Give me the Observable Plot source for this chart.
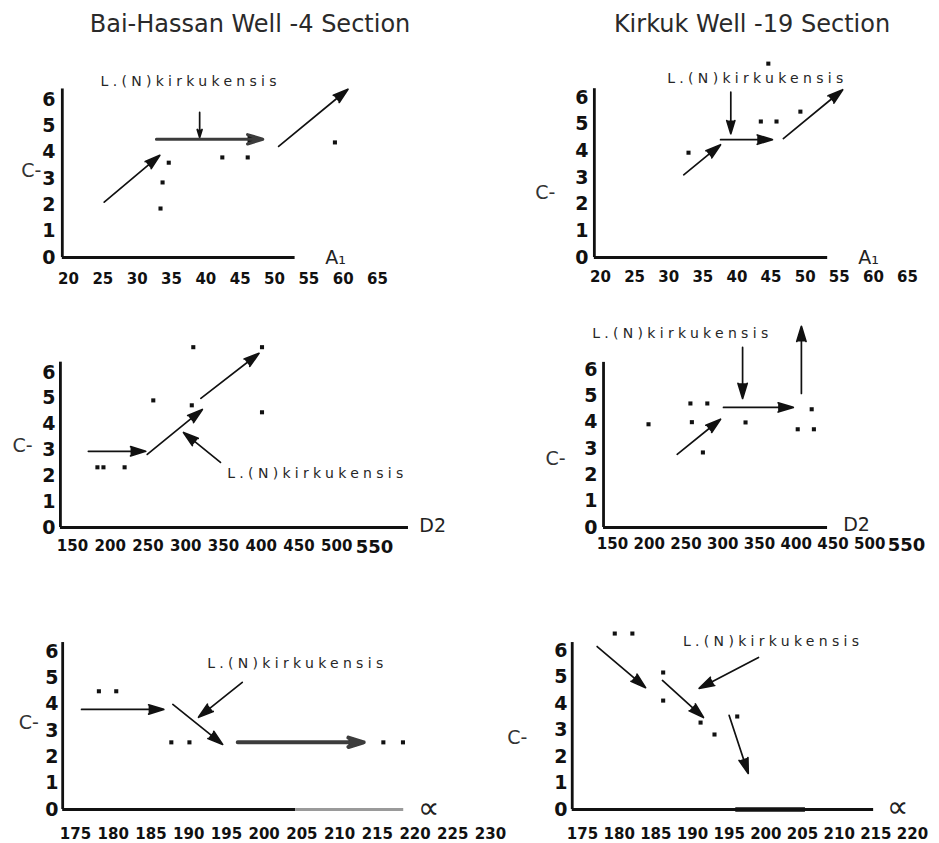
<!DOCTYPE html>
<html><head><meta charset="utf-8">
<script src="https://cdn.jsdelivr.net/npm/d3@7"></script>
<script src="https://cdn.jsdelivr.net/npm/@observablehq/plot@0.6"></script>
<style>
body{margin:0;background:#fff;}
#root{position:relative;width:939px;height:843px;overflow:hidden;font-family:"DejaVu Sans",sans-serif;background:#fff;}
.cell{position:absolute;}
.title{position:absolute;font-size:24px;line-height:24px;color:#2a2a2a;white-space:nowrap;transform:translateX(-50%);top:12px;}
svg{overflow:visible;}
.big550 g[aria-label="x-axis tick label"] text:last-child{font-size:18px;}
</style></head>
<body><div id="root"></div>
<script>
// ---------- shared labels / ticks ----------
const titles = ["Bai-Hassan Well -4 Section", "Kirkuk Well -19 Section"];
const noteText = "L.(N)kirkukensis";
const yTitle = "C-";
const xTitles = ["A\u2081", "D2", "\u221D"];
const yTicks = [0, 1, 2, 3, 4, 5, 6];
const xTicksA1 = [20, 25, 30, 35, 40, 45, 50, 55, 60, 65];
const xTicksD2 = [150, 200, 250, 300, 350, 400, 450, 500, 550];
const xTicksAlphaBH = [175, 180, 185, 190, 195, 200, 205, 210, 215, 220, 225, 230];
const xTicksAlphaK = [175, 180, 185, 190, 195, 200, 205, 210, 215, 220];

// ---------- Bai-Hassan, A1 ----------
const bhA1Dots = [[34.6,3.6],[33.7,2.85],[33.4,1.86],[42.4,3.8],[46.1,3.8],[58.8,4.37]];
const bhA1Arrows = [[25.2,2.1,33.3,3.88],[50.6,4.22,60.7,6.39],[39.1,5.51,39.1,4.56]];
const bhA1BoldArrows = [[32.8,4.49,48.3,4.49]];
const bhA1Note = [37.8,6.68];
const bhA1Axis = [19.1,6.4,53];
const bhA1Titles = [[14.6,3.27],[58.9,0]];

// ---------- Kirkuk, A1 ----------
const kA1Dots = [[32.9,3.93],[43.5,5.1],[45.8,5.1],[49.3,5.47],[44.6,7.27]];
const kA1Arrows = [[32.2,3.1,37.6,4.23],[37.6,4.42,45.2,4.42],[46.8,4.46,55.5,6.29],[39.1,6.2,39.1,4.64]];
const kA1Note = [43,6.71];
const kA1Axis = [19.1,6.33,53.3];
const kA1Titles = [[11.9,2.44],[59.3,0]];

// ---------- Bai-Hassan, D2 ----------
const bhD2Dots = [[183,2.33],[191,2.33],[219,2.33],[257,4.92],[310,6.98],[308,4.73],[401,6.98],[401,4.46]];
const bhD2Arrows = [[171,2.95,247,2.95],[249,2.83,322,4.57],[320,5.0,397,6.74],[346,2.52,297,3.68]];
const bhD2Note = [355,2.09];
const bhD2Axis = [134,6.4,595];
const bhD2Titles = [[83.8,3.17],[627,0.08]];

// ---------- Kirkuk, D2 ----------
const kD2Dots = [[199,3.92],[256,4.71],[279,4.71],[258,4.0],[273,2.85],[331,3.99],[421,4.49],[402,3.73],[424,3.73]];
const kD2Arrows = [[238,2.78,297,4.11],[301,4.56,396,4.56],[327,6.84,327,4.9],[407,5.09,407,7.64]];
const kD2Note = [245,7.37];
const kD2Axis = [137.8,6.27,442.6];
const kD2Titles = [[72.4,2.62],[482,0.08]];

// ---------- Bai-Hassan, alpha ----------
const bhAlDots = [[178.1,4.49],[180.4,4.49],[187.7,2.55],[190.1,2.55],[215.8,2.55],[218.4,2.55]];
const bhAlArrows = [[175.8,3.8,186.7,3.8],[187.9,3.99,194.5,2.47],[197.1,4.83,191.3,3.5]];
const bhAlBoldArrows = [[196.5,2.55,213.2,2.55]];
const bhAlNote = [204.4,5.55];
const bhAlAxis = [173.3,6.34,204.2,218.5];
const bhAlTitles = [[168.8,3.27],[221.8,0.04]];

// ---------- Kirkuk, alpha ----------
const kAlDots = [[179.4,6.64],[181.8,6.64],[186,5.17],[186,4.11],[191.1,3.28],[193,2.83],[196.1,3.51]];
const kAlArrows = [[177,6.15,183.6,4.6],[185.9,4.87,191.5,3.47],[195,3.55,197.6,1.36],[199,5.74,190.9,4.57]];
const kAlNote = [201,6.34];
const kAlAxis = [173.6,6.3,214.7];
const kAlThick = [195.9,205.4];
const kAlTitles = [[166.1,2.72],[218,0.08]];

// ---------- drawing ----------
const ink = "#111";
function arrows(data, sw, hl, color) {
  return Plot.arrow(data, {x1: d => d[0], y1: d => d[1], x2: d => d[2], y2: d => d[3],
    stroke: color || ink, fill: ink, strokeWidth: sw, headLength: hl, headAngle: 34, ariaLabel: "arrowmark"});
}
function panel(p) {
  const marks = [
    Plot.ruleX([p.axis[0]], {y1: 0, y2: p.axis[1], stroke: ink, strokeWidth: 2.8}),
    Plot.ruleY([0], {x1: p.axis[0], x2: p.axis[2], stroke: ink, strokeWidth: 2.8}),
  ];
  if (p.axis.length > 3) marks.push(Plot.ruleY([0], {x1: p.axis[2], x2: p.axis[3], stroke: "#9a9a9a", strokeWidth: 2.8}));
  if (p.thick) marks.push(Plot.ruleY([0], {x1: p.thick[0], x2: p.thick[1], stroke: ink, strokeWidth: 4.5}));
  marks.push(
    Plot.axisY(yTicks, {anchor: "left", tickSize: 0, tickPadding: p.yPad, fontSize: 19, fontWeight: "bold", fill: ink}),
    Plot.axisX(p.xTicks, {anchor: "bottom", tickSize: 0, tickPadding: p.xPad, fontSize: 15, fontWeight: "bold", fill: ink}),
    Plot.dot(p.dots, {x: d => d[0], y: d => d[1], symbol: "square", r: 2.3, fill: ink}),
    arrows(p.arrows, 1.7, 14)
  );
  if (p.bold) marks.push(arrows(p.bold, p.boldW, 16 * 1.5 / p.boldW, "#3c3c3c"));
  marks.push(
    Plot.text([p.note], {x: d => d[0], y: d => d[1], text: () => noteText, fontSize: 14, fill: "#262626",
      textAnchor: p.noteAnchor || "middle"}),
    Plot.text([p.titles[0]], {x: d => d[0], y: d => d[1], text: () => yTitle, fontSize: 19, fill: "#333"}),
    Plot.text([p.titles[1]], {x: d => d[0], y: d => d[1], text: () => p.xTitle,
      fontSize: p.xTitle === "\u221D" ? 30 : 19, fontStyle: p.xTitle === "\u221D" ? "italic" : "normal", fill: "#222"})
  );
  const chart = Plot.plot({
    width: p.w, height: p.h,
    marginLeft: p.ml, marginBottom: p.mb, marginTop: 10, marginRight: 10,
    x: {domain: [p.xTicks[0], p.xTicks[p.xTicks.length - 1]], range: p.xr},
    y: {domain: [0, 6], range: p.yr},
    style: {background: "none", overflow: "visible", fontFamily: "DejaVu Sans", color: ink},
    marks
  });
  // filled arrowheads and spaced-out annotation text
  chart.querySelectorAll('[aria-label="arrowmark"]').forEach(g => {
    g.setAttribute("fill", ink);
    g.querySelectorAll("path").forEach(pa => { pa.setAttribute("fill", ink); });
  });
  chart.querySelectorAll("text").forEach(t => {
    if (t.textContent === noteText) t.style.letterSpacing = "4.3px";
  });
  const div = document.createElement("div");
  div.className = "cell" + (p.big550 ? " big550" : "");
  div.style.left = p.left + "px"; div.style.top = p.top + "px";
  div.style.width = p.w + "px"; div.style.height = p.h + "px";
  div.appendChild(chart);
  document.getElementById("root").appendChild(div);
}

const root = document.getElementById("root");
[[titles[0], 250], [titles[1], 752]].forEach(([t, x]) => {
  const d = document.createElement("div");
  d.className = "title"; d.textContent = t; d.style.left = x + "px";
  root.appendChild(d);
});

panel({left: 0, top: 0, w: 470, h: 290, ml: 62, mb: 33, xr: [68, 377], yr: [257, 99], yPad: 7, xPad: 16,
  xTicks: xTicksA1, dots: bhA1Dots, arrows: bhA1Arrows, bold: bhA1BoldArrows, boldW: 3,
  note: bhA1Note, axis: bhA1Axis, titles: bhA1Titles, xTitle: xTitles[0]});
panel({left: 470, top: 0, w: 469, h: 290, ml: 124, mb: 33, xr: [130, 437], yr: [257, 97], yPad: 6, xPad: 14,
  xTicks: xTicksA1, dots: kA1Dots, arrows: kA1Arrows,
  note: kA1Note, axis: kA1Axis, titles: kA1Titles, xTitle: xTitles[0]});
panel({left: 0, top: 290, w: 470, h: 280, ml: 60, mb: 43, xr: [72, 374], yr: [237, 82], yPad: 5, xPad: 13,
  xTicks: xTicksD2, dots: bhD2Dots, arrows: bhD2Arrows, big550: true,
  note: bhD2Note, noteAnchor: "start", axis: bhD2Axis, titles: bhD2Titles, xTitle: xTitles[1]});
panel({left: 470, top: 290, w: 469, h: 280, ml: 133, mb: 43, xr: [142, 436], yr: [237, 79], yPad: 6, xPad: 11,
  xTicks: xTicksD2, dots: kD2Dots, arrows: kD2Arrows, big550: true,
  note: kD2Note, axis: kD2Axis, titles: kD2Titles, xTitle: xTitles[1]});
panel({left: 0, top: 570, w: 470, h: 273, ml: 62, mb: 34, xr: [75, 490], yr: [239, 81], yPad: 4, xPad: 19,
  xTicks: xTicksAlphaBH, dots: bhAlDots, arrows: bhAlArrows, bold: bhAlBoldArrows, boldW: 4,
  note: bhAlNote, axis: bhAlAxis, titles: bhAlTitles, xTitle: xTitles[2]});
panel({left: 470, top: 570, w: 469, h: 273, ml: 102, mb: 34, xr: [112, 442], yr: [239, 80], yPad: 5, xPad: 19,
  xTicks: xTicksAlphaK, dots: kAlDots, arrows: kAlArrows, thick: kAlThick,
  note: kAlNote, axis: kAlAxis, titles: kAlTitles, xTitle: xTitles[2]});
</script>
</body></html>
